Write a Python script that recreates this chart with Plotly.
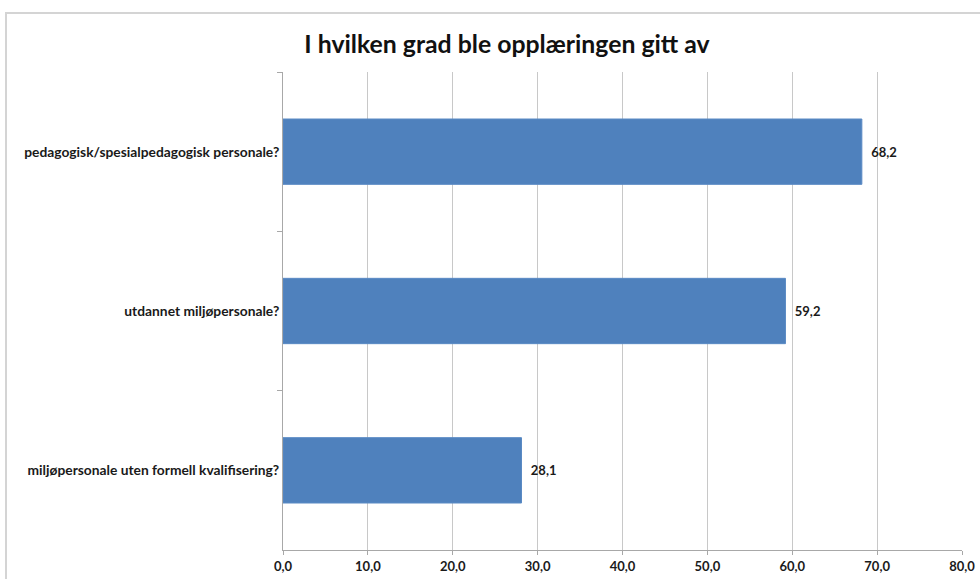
import plotly.graph_objects as go

title = "I hvilken grad ble opplæringen gitt av"
categories = [
    "pedagogisk/spesialpedagogisk personale?",
    "utdannet miljøpersonale?",
    "miljøpersonale uten formell kvalifisering?",
]
values = [68.2, 59.2, 28.1]
x_ticks = [0, 10, 20, 30, 40, 50, 60, 70, 80]

FONT = "Lato, 'Noto Sans', sans-serif"

fig = go.Figure(
    go.Bar(
        x=values,
        y=categories,
        orientation="h",
        marker=dict(color="#4f81bd", line=dict(color="#5a8ac4", width=1)),
        width=0.41,
        text=values,
        texttemplate="\u00a0\u00a0%{x:.1f}",
        textposition="outside",
        cliponaxis=False,
        textfont=dict(family=FONT, size=13, color="#1a1a1a", weight="bold"),
        hoverinfo="skip",
    )
)

fig.update_layout(
    width=980,
    height=579,
    separators=", ",
    paper_bgcolor="white",
    plot_bgcolor="white",
    margin=dict(l=283, r=18, t=72, b=29, autoexpand=False),
    showlegend=False,
    title=dict(
        text=title,
        x=507 / 980,
        xanchor="center",
        y=1 - 44 / 579,
        yanchor="middle",
        font=dict(family=FONT, size=24.8, color="#111111", weight="bold"),
        automargin=False,
    ),
    xaxis=dict(
        range=[0, 80],
        tickvals=x_ticks,
        tickformat=".1f",
        showgrid=True,
        gridcolor="#c8c8c8",
        gridwidth=1,
        showline=True,
        linecolor="#a8a8a8",
        linewidth=1,
        ticks="outside",
        ticklen=4,
        tickcolor="#a8a8a8",
        zeroline=False,
        automargin=False,
        tickfont=dict(family=FONT, size=13, color="#1a1a1a", weight="bold"),
        fixedrange=True,
    ),
    yaxis=dict(
        autorange="reversed",
        type="category",
        showgrid=False,
        showline=True,
        linecolor="#a8a8a8",
        linewidth=1,
        ticks="outside",
        tickson="boundaries",
        ticklen=5,
        tickcolor="#a8a8a8",
        automargin=False,
        tickfont=dict(family=FONT, size=13.8, color="#1a1a1a", weight="bold"),
        fixedrange=True,
    ),
    shapes=[
        dict(
            type="rect",
            xref="paper",
            yref="paper",
            x0=(6 - 283) / 679,
            x1=1.2,
            y0=-0.3,
            y1=(550 - 13) / 478,
            line=dict(color="#d4d4d4", width=2),
            fillcolor="rgba(0,0,0,0)",
            layer="below",
        )
    ],
)

fig.write_html(
    "out.html",
    config={"displayModeBar": False},
    post_script="document.body.style.margin='0';document.body.style.padding='0';",
)
